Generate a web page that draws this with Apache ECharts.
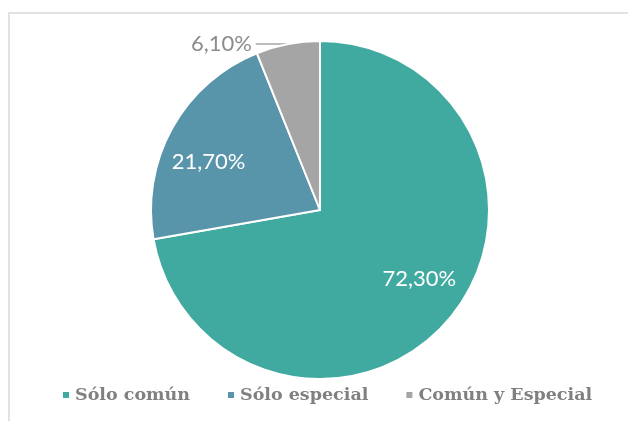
<!DOCTYPE html>
<html>

<head>
    <meta charset="UTF-8">
    <title>pie</title>
    <style>
        html, body { margin: 0; padding: 0; background: #fff; }
    </style>
</head>

<body>
    <div id="container" style="width: 628px;height: 421px;"></div>
    <script src="https://cdn.jsdelivr.net/npm/echarts@6/dist/echarts.min.js"></script>
    <script type="text/javascript">
        // datos
        var categories = ['Sólo común', 'Sólo especial', 'Común y Especial'];
        var values = [72.3, 21.7, 6.1];
        var colors = ['#40A9A0', '#5895AA', '#A5A5A5'];
        // pequeño ajuste de las etiquetas interiores
        var labelShift = [[5, -10], [-4, 12], [0, 0]];

        function fmt(p) {
            return p.value.toFixed(2).replace('.', ',') + '%';
        }

        var pieData = categories.map(function (name, i) {
            var item = { name: name, value: values[i], itemStyle: { color: colors[i] } };
            // solo la porción pequeña lleva etiqueta afuera
            item.label = { show: i === 2 };
            item.labelLine = { show: i === 2 };
            return item;
        });
        var labelData = categories.map(function (name, i) {
            return { name: name, value: values[i], label: { show: i !== 2, offset: labelShift[i] } };
        });

        var myChart = echarts.init(document.getElementById('container'));
        var option = {
            animation: false,
            graphic: [{
                type: 'rect',
                shape: { x: 9, y: 13, width: 700, height: 500 },
                style: { fill: 'none', stroke: '#d9d9d9', lineWidth: 1.5 },
                silent: true
            }],
            legend: {
                bottom: 12,
                left: 56,
                icon: 'rect',
                itemWidth: 8,
                itemHeight: 8,
                itemGap: 36,
                data: categories,
                textStyle: {
                    color: '#808080',
                    fontFamily: 'DejaVu Serif',
                    fontWeight: 'bold',
                    fontSize: 17.5
                }
            },
            series: [{
                type: 'pie',
                center: [320, 210],
                radius: 169,
                startAngle: 90,
                clockwise: true,
                itemStyle: { borderColor: '#fff', borderWidth: 2 },
                label: {
                    position: 'outside',
                    formatter: fmt,
                    color: '#8c8c8c',
                    fontFamily: 'Lato',
                    fontSize: 22,
                    distanceToLabelLine: 4
                },
                labelLine: {
                    length: 0,
                    length2: 32,
                    lineStyle: { color: '#a6a6a6', width: 1.5 }
                },
                emphasis: { disabled: true },
                data: pieData
            }, {
                // capa transparente solo para las etiquetas interiores
                type: 'pie',
                center: [320, 210],
                radius: [71, 169],
                startAngle: 90,
                clockwise: true,
                silent: true,
                itemStyle: { color: 'rgba(0,0,0,0)' },
                label: {
                    position: 'inside',
                    formatter: fmt,
                    color: '#fff',
                    fontFamily: 'Lato',
                    fontSize: 22
                },
                labelLine: { show: false },
                emphasis: { disabled: true },
                data: labelData
            }]
        };
        myChart.setOption(option);
    </script>
</body>

</html>
